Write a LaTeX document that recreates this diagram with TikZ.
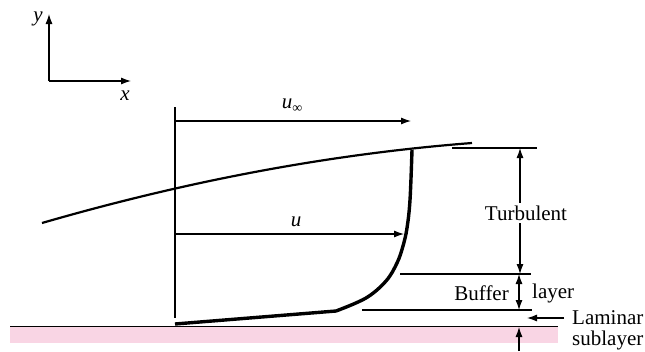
\documentclass[tikz,border=0pt]{standalone}
\usepackage{fontspec}
\setmainfont{Liberation Serif}
\usetikzlibrary{arrows.meta}
\definecolor{wallpink}{RGB}{249,213,228}
\tikzset{
  thinline/.style={line width=1.1pt},
  arr/.style={thinline,-{Latex[length=10pt,width=7pt]}},
  darr/.style={thinline,{Latex[length=10pt,width=7pt]}-{Latex[length=10pt,width=7pt]}},
  lbl/.style={inner sep=1pt,font=\fontsize{21}{24}\selectfont},
}
\begin{document}
\begin{tikzpicture}[x=1pt,y=-1pt]
\useasboundingbox (0,0) rectangle (645,351);
% wall
\fill[wallpink] (10,327) rectangle (558,343);
\coordinate (gl) at (10,326.5);
\coordinate (gr) at (558,326.5);
\draw[thinline] (gl) -- (gr);
% axes
\coordinate (o) at (49,81);
\coordinate (ytip) at (49,14);
\coordinate (xtip) at (131,81);
\draw[arr] (o) -- (ytip);
\draw[arr] (o) -- (xtip);
\node[lbl] (ylab) at (38,19) {\textit{y}};
\node[lbl] (xlab) at (125,96) {\textit{x}};
% vertical reference line
\coordinate (vt) at (175,107);
\coordinate (vb) at (175,318);
\draw[thinline] (vt) -- (vb);
% u infinity
\coordinate (uinfs) at (175,121);
\coordinate (uinfe) at (411,121);
\draw[arr] (uinfs) -- (uinfe);
\node[lbl] (uinflab) at (292,106) {\textit{u}\raisebox{-0.4ex}{\fontsize{14}{14}\selectfont ∞}};
% boundary layer edge
\coordinate (es) at (42,223);
\coordinate (ee) at (472,143);
\draw[line width=2.2pt] (es) .. controls (187,181) and (330,154) .. (ee);
% velocity profile
\coordinate (ps) at (175,324);
\coordinate (pk) at (336,311);
\draw[line width=3.4pt,line join=round] (ps) -- (pk)
  plot[smooth,tension=0.6] coordinates {(336,311) (366,298) (386,281) (397,263) (403,246) (407,228) (410,200) (412,150)};
% u arrow
\coordinate (us) at (175,234);
\coordinate (ue) at (404,234);
\draw[arr] (us) -- (ue);
\node[lbl] (ulab) at (296,222) {\textit{u}};
% layer boundaries
\coordinate (t1) at (452,148);
\coordinate (t2) at (537,148);
\coordinate (b1) at (400,274);
\coordinate (b2) at (531,274);
\coordinate (l1) at (362,310);
\coordinate (l2) at (532,310);
\draw[thinline] (t1) -- (t2);
\draw[thinline] (b1) -- (b2);
\draw[thinline] (l1) -- (l2);
% turbulent
\coordinate (ta) at (520,148);
\coordinate (tb) at (520,274);
\draw[darr] (ta) -- (tb);
\node[lbl,fill=white,inner sep=3pt] (turb) at (526,213) {Turbulent};
% buffer
\coordinate (ba) at (519,274);
\coordinate (bb) at (519,310);
\draw[darr] (ba) -- (bb);
\node[lbl,anchor=east] (buf) at (510,293) {Buffer};
\node[lbl,anchor=west] (lay) at (531,293) {layer};
% laminar
\coordinate (la) at (564,318);
\coordinate (lb) at (527,318);
\draw[arr] (la) -- (lb);
\coordinate (ua) at (519,351);
\coordinate (ub) at (519,327);
\draw[arr] (ua) -- (ub);
\node[lbl,anchor=west] (lam) at (571,318) {Laminar};
\node[lbl,anchor=west] (sub) at (571,340) {sublayer};
\end{tikzpicture}
\end{document}
